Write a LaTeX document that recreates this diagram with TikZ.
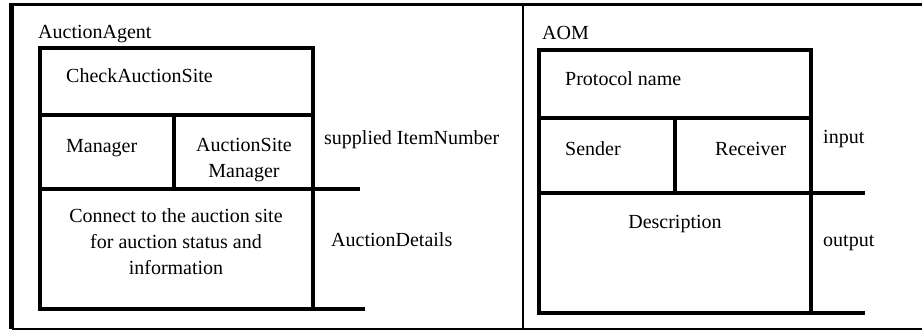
\documentclass[tikz,border=0pt]{standalone}
\usepackage{fontspec}
\setmainfont{Liberation Serif}
\begin{document}
\begin{tikzpicture}[x=1pt,y=-1pt,
  lbl/.style={inner sep=0pt, anchor=base west, font=\fontsize{20}{26}\selectfont},
  clbl/.style={inner sep=0pt, anchor=center, align=center, font=\fontsize{20}{26}\selectfont},
  boxline/.style={line width=3.5pt, line cap=rect},
  thickedge/.style={line width=4.5pt, line cap=rect}]
\useasboundingbox (0,0) rectangle (922,330);
% outer frame
\coordinate (ftl) at (11.5,4.5);
\coordinate (fbl) at (11.5,329);
\coordinate (ftr) at (930,4.5);
\coordinate (fbr) at (930,329);
\coordinate (dvt) at (523,4.5);
\coordinate (dvb) at (523,329);
\draw[line width=3pt] (ftl) -- (ftr);
\draw[line width=2pt] (fbl) -- (fbr);
\draw[line width=4.5pt] (11.5,3) -- (fbl);
\draw[line width=2pt] (dvt) -- (dvb);

% ---------- left panel ----------
\node[lbl] (agent) at (38,38) {AuctionAgent};
\coordinate (la) at (40,48);
\coordinate (lb) at (313,48);
\coordinate (lc) at (313,309);
\coordinate (ld) at (40,309);
\draw[boxline] (la) -- (lb) -- (lc);
\draw[thickedge] (la) -- (ld);
\draw[boxline] (ld) -- (363,309);
\draw[boxline] (40,115) -- (313,115);
\draw[boxline] (40,189) -- (358,189);
\draw[boxline] (174,115) -- (174,189);
\node[lbl] (check) at (66,82) {CheckAuctionSite};
\node[lbl] (mgr) at (66,152) {Manager};
\node[clbl] (asm) at (244,160) {AuctionSite\\Manager};
\node[clbl] (conn) at (176,242) {Connect to the auction site\\for auction status and\\information};
\node[lbl] (item) at (324,144) {supplied ItemNumber};
\node[lbl] (det) at (331,246) {AuctionDetails};

% ---------- right panel ----------
\node[lbl] (aom) at (542,39) {AOM};
\coordinate (ra) at (539,50);
\coordinate (rb) at (811,50);
\coordinate (rc) at (811,313);
\coordinate (rd) at (539,313);
\draw[boxline] (ra) -- (rb) -- (rc);
\draw[thickedge] (ra) -- (rd);
\draw[boxline] (rd) -- (863,313);
\draw[boxline] (539,118) -- (811,118);
\draw[boxline] (539,193) -- (863,193);
\draw[boxline] (675,118) -- (675,193);
\node[lbl] (proto) at (565,85) {Protocol name};
\node[lbl] (send) at (565,155) {Sender};
\node[lbl] (recv) at (715,155) {Receiver};
\node[lbl, anchor=base] (desc) at (675,228) {Description};
\node[lbl] (inp) at (823,143) {input};
\node[lbl] (outp) at (823,246) {output};
\end{tikzpicture}
\end{document}
